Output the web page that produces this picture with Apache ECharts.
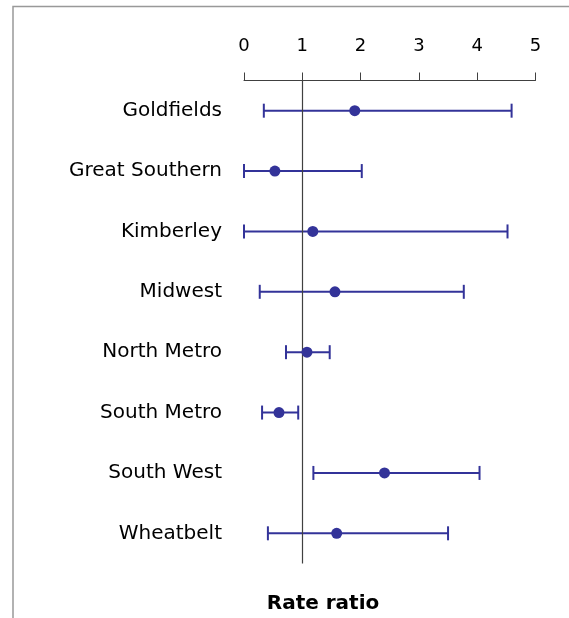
<!DOCTYPE html>
<html>
<head>
<meta charset="utf-8">
<script src="https://cdn.jsdelivr.net/npm/echarts@6/dist/echarts.min.js"></script>
<style>
html,body{margin:0;padding:0;background:#fff;}
#chart{width:569px;height:618px;}
</style>
</head>
<body>
<div id="chart"></div>
<script>
var categories = ['Goldfields','Great Southern','Kimberley','Midwest','North Metro','South Metro','South West','Wheatbelt'];
var estimates = [1.90, 0.53, 1.18, 1.56, 1.08, 0.60, 2.41, 1.59];
var lowerCI   = [0.34, 0.00, 0.00, 0.27, 0.72, 0.31, 1.19, 0.41];
var upperCI   = [4.59, 2.02, 4.52, 3.77, 1.47, 0.93, 4.04, 3.50];
var xTicks = [0, 1, 2, 3, 4, 5];
var refValue = 1;
var axisTitle = 'Rate ratio';

var FONT = 'DejaVu Sans';
var NAVY = '#333399';

var barData = categories.map(function (c, i) { return [lowerCI[i], upperCI[i], i]; });
var pointData = categories.map(function (c, i) { return [estimates[i], i]; });

var chart = echarts.init(document.getElementById('chart'), null, {renderer: 'canvas'});
chart.setOption({
  animation: false,
  backgroundColor: '#fff',
  title: {
    text: axisTitle,
    left: 323, top: 594, textAlign: 'center', padding: 0,
    textStyle: {fontFamily: FONT, fontSize: 20, fontWeight: 'bold', color: '#000'}
  },
  graphic: [{
    type: 'rect', z: -10,
    shape: {x: 13, y: 6.5, width: 700, height: 700},
    style: {fill: 'none', stroke: '#999', lineWidth: 1.5}
  }],
  grid: {left: 244, top: 80.5, width: 291.5, height: 483},
  xAxis: {
    type: 'value', position: 'top',
    min: xTicks[0], max: xTicks[xTicks.length - 1], interval: 1,
    axisLine: {show: true, lineStyle: {color: '#404040', width: 1}},
    axisTick: {show: true, length: 8, lineStyle: {color: '#404040', width: 1}},
    axisLabel: {margin: 25, fontFamily: FONT, fontSize: 18, color: '#000'},
    splitLine: {show: false}
  },
  yAxis: {
    type: 'category', data: categories, inverse: true,
    axisLine: {show: false}, axisTick: {show: false},
    axisLabel: {margin: 22, fontFamily: FONT, fontSize: 20, color: '#000'},
    splitLine: {show: false}
  },
  series: [
    {
      type: 'line', data: [], silent: true,
      markLine: {
        symbol: 'none', silent: true, label: {show: false},
        lineStyle: {color: '#404040', width: 1.2, type: 'solid'},
        data: [{xAxis: refValue}]
      }
    },
    {
      type: 'custom', silent: true,
      encode: {x: [0, 1], y: 2},
      renderItem: function (params, api) {
        var yi = api.value(2);
        var p0 = api.coord([api.value(0), yi]);
        var p1 = api.coord([api.value(1), yi]);
        var h = 7;
        var st = {stroke: NAVY, lineWidth: 2, fill: 'none'};
        return {
          type: 'group',
          children: [
            {type: 'line', shape: {x1: p0[0], y1: p0[1], x2: p1[0], y2: p1[1]}, style: st},
            {type: 'line', shape: {x1: p0[0], y1: p0[1] - h, x2: p0[0], y2: p0[1] + h}, style: st},
            {type: 'line', shape: {x1: p1[0], y1: p1[1] - h, x2: p1[0], y2: p1[1] + h}, style: st}
          ]
        };
      },
      data: barData
    },
    {
      type: 'scatter', data: pointData, symbol: 'circle', symbolSize: 11,
      itemStyle: {color: NAVY, opacity: 1}, z: 5
    }
  ]
});
</script>
</body>
</html>
